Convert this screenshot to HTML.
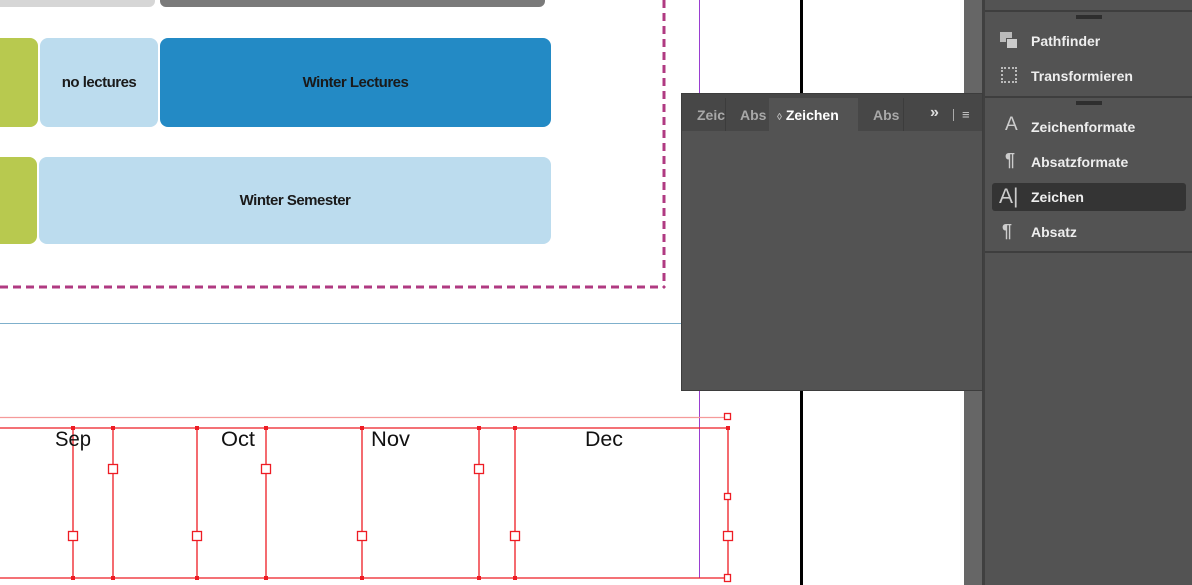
<!DOCTYPE html>
<html><head><meta charset="utf-8"><style>
*{margin:0;padding:0;box-sizing:border-box}
body{width:1192px;height:585px;background:#fff;position:relative;overflow:hidden;font-family:"Liberation Sans",sans-serif}
.a{position:absolute}
.lbl{display:flex;align-items:center;justify-content:center;font-weight:bold;font-size:15px;color:#1a1a1a;letter-spacing:-0.5px}
.it{position:absolute;left:1031px;color:#eee;font-weight:bold;font-size:14px}
.tab{position:absolute;top:107px;font-weight:bold;font-size:14px;color:#a8a8a8}
</style></head><body>
<div class="a" style="left:0;top:0;width:155px;height:7px;background:#d6d6d6;border-radius:0 0 6px 0"></div>
<div class="a" style="left:160px;top:0;width:385px;height:7px;background:#7a7a7a;border-radius:0 0 6px 6px"></div>
<div class="a" style="left:0;top:38px;width:38px;height:89px;background:#b8c94f;border-radius:0 8px 8px 0"></div>
<div class="a lbl" style="left:40px;top:38px;width:118px;height:89px;background:#bcdcee;border-radius:8px">no lectures</div>
<div class="a lbl" style="left:160px;top:38px;width:391px;height:89px;background:#238ac5;border-radius:8px">Winter Lectures</div>
<div class="a" style="left:0;top:157px;width:37px;height:87px;background:#b8c94f;border-radius:0 8px 8px 0"></div>
<div class="a lbl" style="left:39px;top:157px;width:512px;height:87px;background:#bcdcee;border-radius:8px">Winter Semester</div>
<svg class="a" style="left:0;top:0" width="1192" height="585">
<line x1="664" y1="0" x2="664" y2="288" stroke="#b03a82" stroke-width="3" stroke-dasharray="8,5"/>
<line x1="0" y1="287" x2="665" y2="287" stroke="#b03a82" stroke-width="3" stroke-dasharray="8,5"/>
<line x1="0" y1="323.5" x2="681" y2="323.5" stroke="#7fb0cc" stroke-width="1"/>
<line x1="699.5" y1="0" x2="699.5" y2="578" stroke="#9a3ed0" stroke-width="1"/>
<line x1="801.5" y1="0" x2="801.5" y2="585" stroke="#000" stroke-width="3"/>
<g stroke="#ee1c24" stroke-width="1.3" fill="#fff">
<line x1="0" y1="417.5" x2="727" y2="417.5" stroke="#f59a9a"/>
<line x1="0" y1="428" x2="728" y2="428"/>
<line x1="0" y1="578" x2="728" y2="578"/>
<line x1="73" y1="428" x2="73" y2="578"/><line x1="113" y1="428" x2="113" y2="578"/>
<line x1="197" y1="428" x2="197" y2="578"/><line x1="266" y1="428" x2="266" y2="578"/>
<line x1="362" y1="428" x2="362" y2="578"/><line x1="479" y1="428" x2="479" y2="578"/>
<line x1="515" y1="428" x2="515" y2="578"/><line x1="728" y1="428" x2="728" y2="578"/>
<rect x="108.5" y="464.5" width="9" height="9"/><rect x="261.5" y="464.5" width="9" height="9"/><rect x="474.5" y="464.5" width="9" height="9"/>
<rect x="68.5" y="531.5" width="9" height="9"/><rect x="192.5" y="531.5" width="9" height="9"/><rect x="357.5" y="531.5" width="9" height="9"/><rect x="510.5" y="531.5" width="9" height="9"/><rect x="723.5" y="531.5" width="9" height="9"/>
<rect x="724.5" y="493.5" width="6" height="6"/><rect x="724.5" y="413.5" width="6" height="6"/><rect x="724.5" y="574.5" width="6" height="7"/>
</g>
<g fill="#ee1c24"><rect x="71" y="426" width="4" height="4"/><rect x="111" y="426" width="4" height="4"/><rect x="195" y="426" width="4" height="4"/><rect x="264" y="426" width="4" height="4"/><rect x="360" y="426" width="4" height="4"/><rect x="477" y="426" width="4" height="4"/><rect x="513" y="426" width="4" height="4"/><rect x="726" y="426" width="4" height="4"/>
<rect x="71" y="576" width="4" height="4"/><rect x="111" y="576" width="4" height="4"/><rect x="195" y="576" width="4" height="4"/><rect x="264" y="576" width="4" height="4"/><rect x="360" y="576" width="4" height="4"/><rect x="477" y="576" width="4" height="4"/><rect x="513" y="576" width="4" height="4"/></g>
<g font-family="Liberation Sans" font-size="21" fill="#111"><text x="55" y="446" textLength="36" lengthAdjust="spacingAndGlyphs">Sep</text><text x="221" y="446" textLength="34" lengthAdjust="spacingAndGlyphs">Oct</text><text x="371" y="446" textLength="39" lengthAdjust="spacingAndGlyphs">Nov</text><text x="585" y="446" textLength="38" lengthAdjust="spacingAndGlyphs">Dec</text></g>
</svg>
<div class="a" style="left:964px;top:0;width:19px;height:585px;background:#666"></div>
<div class="a" style="left:982px;top:0;width:3px;height:585px;background:#404040"></div>
<div class="a" style="left:985px;top:0;width:207px;height:585px;background:#535353"></div>
<div class="a" style="left:985px;top:10px;width:207px;height:2px;background:#3e3e3e"></div>
<div class="a" style="left:985px;top:96px;width:207px;height:2px;background:#3e3e3e"></div>
<div class="a" style="left:985px;top:251px;width:207px;height:2px;background:#3e3e3e"></div>
<div class="a" style="left:1076px;top:15px;width:26px;height:4px;background:#2e2e2e"></div>
<div class="a" style="left:1076px;top:101px;width:26px;height:4px;background:#2e2e2e"></div>
<div class="a" style="left:992px;top:183px;width:194px;height:28px;background:#343434;border-radius:3px"></div>
<div class="a" style="left:1000px;top:32px;width:12px;height:10px;background:#bbb"></div><div class="a" style="left:1006px;top:38px;width:12px;height:11px;background:#ccc;border:1px solid #535353"></div>
<div class="a" style="left:1001px;top:67px;width:16px;height:16px;border:2px dotted #bbb"></div>
<div class="it" style="top:33px">Pathfinder</div>
<div class="it" style="top:68px">Transformieren</div>
<div class="a" style="left:1005px;top:114px;color:#ccc;font-size:19px">A</div>
<div class="it" style="top:119px">Zeichenformate</div>
<div class="a" style="left:1005px;top:150px;color:#ccc;font-size:18px;font-weight:bold">¶</div>
<div class="it" style="top:154px">Absatzformate</div>
<div class="a" style="left:999px;top:185px;color:#ccc;font-size:21px">A|</div>
<div class="it" style="top:189px">Zeichen</div>
<div class="a" style="left:1002px;top:221px;color:#ccc;font-size:18px;font-weight:bold">¶</div>
<div class="it" style="top:224px">Absatz</div>
<div class="a" style="left:681px;top:93px;width:302px;height:298px;background:#535353;border:1px solid #3d3d3d"></div>
<div class="a" style="left:682px;top:94px;width:300px;height:37px;background:#474747"></div>
<div class="a" style="left:725px;top:98px;width:1px;height:33px;background:#3c3c3c"></div>
<div class="a" style="left:769px;top:98px;width:89px;height:33px;background:#535353"></div>
<div class="a" style="left:903px;top:98px;width:1px;height:33px;background:#3c3c3c"></div>
<div class="tab" style="left:697px">Zeic</div>
<div class="tab" style="left:740px">Abs</div>
<div class="tab" style="left:777px;color:#fff"><span style="font-size:10px;color:#bbb">◊</span> Zeichen</div>
<div class="tab" style="left:873px">Abs</div>
<div class="tab" style="left:930px;color:#ddd;top:104px;font-size:16px">»</div>
<div class="a" style="left:953px;top:109px;width:1px;height:12px;background:#aaa"></div>
<div class="tab" style="left:962px;color:#ccc;font-size:13px">≡</div>
</body></html>
